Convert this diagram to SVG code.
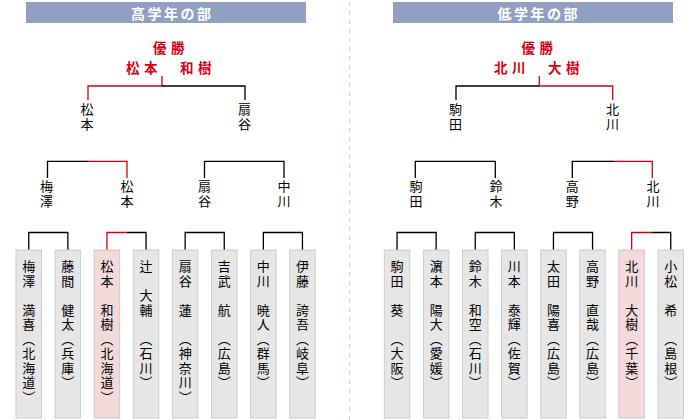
<svg xmlns="http://www.w3.org/2000/svg" width="700" height="420" viewBox="0 0 700 420">
<style>
.hd{fill:#919fc3}
.ht{fill:#fff;font-family:"Noto Sans CJK JP",sans-serif;font-size:14px;font-weight:bold;letter-spacing:2.5px}
.win{fill:#d7000f;font-family:"Noto Sans CJK JP",sans-serif;font-size:13.5px;font-weight:bold;letter-spacing:4.5px}
.v{font-family:"Noto Sans CJK JP",sans-serif;font-size:13px;letter-spacing:1.5px;writing-mode:vertical-rl;fill:#000}
.bar{fill:#e6e6e6;stroke:#cccccc;stroke-width:1}
.pk{fill:#f3dada;stroke:#d9c4c4;stroke-width:1}
.k{fill:none;stroke:#000;stroke-width:1.3}
.r{fill:none;stroke:#d7000f;stroke-width:1.3}
.dv{stroke:#efc2c2;stroke-width:1;stroke-dasharray:4 5}
</style>
<line class="dv" x1="349.5" y1="2" x2="349.5" y2="420"/>
<g id="header-high"><rect class="hd" x="26" y="2" width="280" height="21"/><text class="ht" x="131" y="18.5">高学年の部</text></g>
<g id="header-low"><rect class="hd" x="393" y="2" width="280" height="21"/><text class="ht" x="497.5" y="18.5">低学年の部</text></g>
<g id="winner-high"><text class="win" x="153" y="52.5">優勝</text><text class="win" x="126" y="72.5">松本　和樹</text></g>
<g id="winner-low"><text class="win" x="521.5" y="52.5">優勝</text><text class="win" x="494" y="72.5">北川　大樹</text></g>
<g id="connectors">
<path class="r" d="M162 76V86H88V100"/><path class="k" d="M162 86H245V100"/>
<path class="r" d="M539.3 76V86H612.7V100"/><path class="k" d="M539.3 86H456V100"/>
<path class="k" d="M47.5 178V161.3H88"/><path class="r" d="M88 161.3H127V178"/>
<path class="k" d="M204.5 178V161.3H284V178"/>
<path class="k" d="M415.3 178V161.3H495.3V178"/>
<path class="k" d="M572.3 178V161.3H614"/><path class="r" d="M614 161.3H652.3V178"/>
<path class="k" d="M28.75 250V232.5H67.85V250"/>
<path class="r" d="M106.95 250V232.5H126.5"/><path class="k" d="M126.5 232.5H146.05V250"/>
<path class="k" d="M185.15 250V232.5H224.25V250"/>
<path class="k" d="M263.35 250V232.5H302.45V250"/>
<path class="k" d="M397.05 250V232.5H436.15V250"/>
<path class="k" d="M475.25 250V232.5H514.35V250"/>
<path class="k" d="M553.45 250V232.5H592.55V250"/>
<path class="r" d="M631.65 250V232.5H651.2"/><path class="k" d="M651.2 232.5H670.75V250"/>
</g>
<g id="r1-matsumoto"><text class="v" x="87" y="103">松本</text></g>
<g id="r1-ogiya"><text class="v" x="244.5" y="103">扇谷</text></g>
<g id="r1-komada"><text class="v" x="455.5" y="103">駒田</text></g>
<g id="r1-kitagawa"><text class="v" x="612.5" y="103">北川</text></g>
<g id="r2-umezawa"><text class="v" x="46.5" y="180">梅澤</text></g>
<g id="r2-matsumoto"><text class="v" x="127" y="180">松本</text></g>
<g id="r2-ogiya"><text class="v" x="204.5" y="180">扇谷</text></g>
<g id="r2-nakagawa"><text class="v" x="284" y="180">中川</text></g>
<g id="r2-komada"><text class="v" x="416" y="180">駒田</text></g>
<g id="r2-suzuki"><text class="v" x="496" y="180">鈴木</text></g>
<g id="r2-takano"><text class="v" x="572.3" y="180">高野</text></g>
<g id="r2-kitagawa"><text class="v" x="653" y="180">北川</text></g>
<g id="p1"><rect class="bar" x="16" y="250" width="25.5" height="168"/><text class="v" x="28.75" y="260">梅澤　満喜</text><text class="v" x="28.75" y="332.5">（北海道）</text></g>
<g id="p2"><rect class="bar" x="55.1" y="250" width="25.5" height="168"/><text class="v" x="67.85" y="260">藤間　健太</text><text class="v" x="67.85" y="332.5">（兵庫）</text></g>
<g id="p3"><rect class="pk" x="94.2" y="250" width="25.5" height="168"/><text class="v" x="106.95" y="260">松本　和樹</text><text class="v" x="106.95" y="332.5">（北海道）</text></g>
<g id="p4"><rect class="bar" x="133.3" y="250" width="25.5" height="168"/><text class="v" x="146.05" y="260">辻　大輔</text><text class="v" x="146.05" y="332.5">（石川）</text></g>
<g id="p5"><rect class="bar" x="172.4" y="250" width="25.5" height="168"/><text class="v" x="185.15" y="260">扇谷　蓮</text><text class="v" x="185.15" y="332.5">（神奈川）</text></g>
<g id="p6"><rect class="bar" x="211.5" y="250" width="25.5" height="168"/><text class="v" x="224.25" y="260">吉武　航</text><text class="v" x="224.25" y="332.5">（広島）</text></g>
<g id="p7"><rect class="bar" x="250.6" y="250" width="25.5" height="168"/><text class="v" x="263.35" y="260">中川　暁人</text><text class="v" x="263.35" y="332.5">（群馬）</text></g>
<g id="p8"><rect class="bar" x="289.7" y="250" width="25.5" height="168"/><text class="v" x="302.45" y="260">伊藤　誇吾</text><text class="v" x="302.45" y="332.5">（岐阜）</text></g>
<g id="q1"><rect class="bar" x="384.3" y="250" width="25.5" height="168"/><text class="v" x="397.05" y="260">駒田　葵</text><text class="v" x="397.05" y="332.5">（大阪）</text></g>
<g id="q2"><rect class="bar" x="423.4" y="250" width="25.5" height="168"/><text class="v" x="436.15" y="260">濵本　陽大</text><text class="v" x="436.15" y="332.5">（愛媛）</text></g>
<g id="q3"><rect class="bar" x="462.5" y="250" width="25.5" height="168"/><text class="v" x="475.25" y="260">鈴木　和空</text><text class="v" x="475.25" y="332.5">（石川）</text></g>
<g id="q4"><rect class="bar" x="501.6" y="250" width="25.5" height="168"/><text class="v" x="514.35" y="260">川本　泰輝</text><text class="v" x="514.35" y="332.5">（佐賀）</text></g>
<g id="q5"><rect class="bar" x="540.7" y="250" width="25.5" height="168"/><text class="v" x="553.45" y="260">太田　陽喜</text><text class="v" x="553.45" y="332.5">（広島）</text></g>
<g id="q6"><rect class="bar" x="579.8" y="250" width="25.5" height="168"/><text class="v" x="592.55" y="260">高野　直哉</text><text class="v" x="592.55" y="332.5">（広島）</text></g>
<g id="q7"><rect class="pk" x="618.9" y="250" width="25.5" height="168"/><text class="v" x="631.65" y="260">北川　大樹</text><text class="v" x="631.65" y="332.5">（千葉）</text></g>
<g id="q8"><rect class="bar" x="658" y="250" width="25.5" height="168"/><text class="v" x="670.75" y="260">小松　希</text><text class="v" x="670.75" y="332.5">（島根）</text></g>
</svg>
